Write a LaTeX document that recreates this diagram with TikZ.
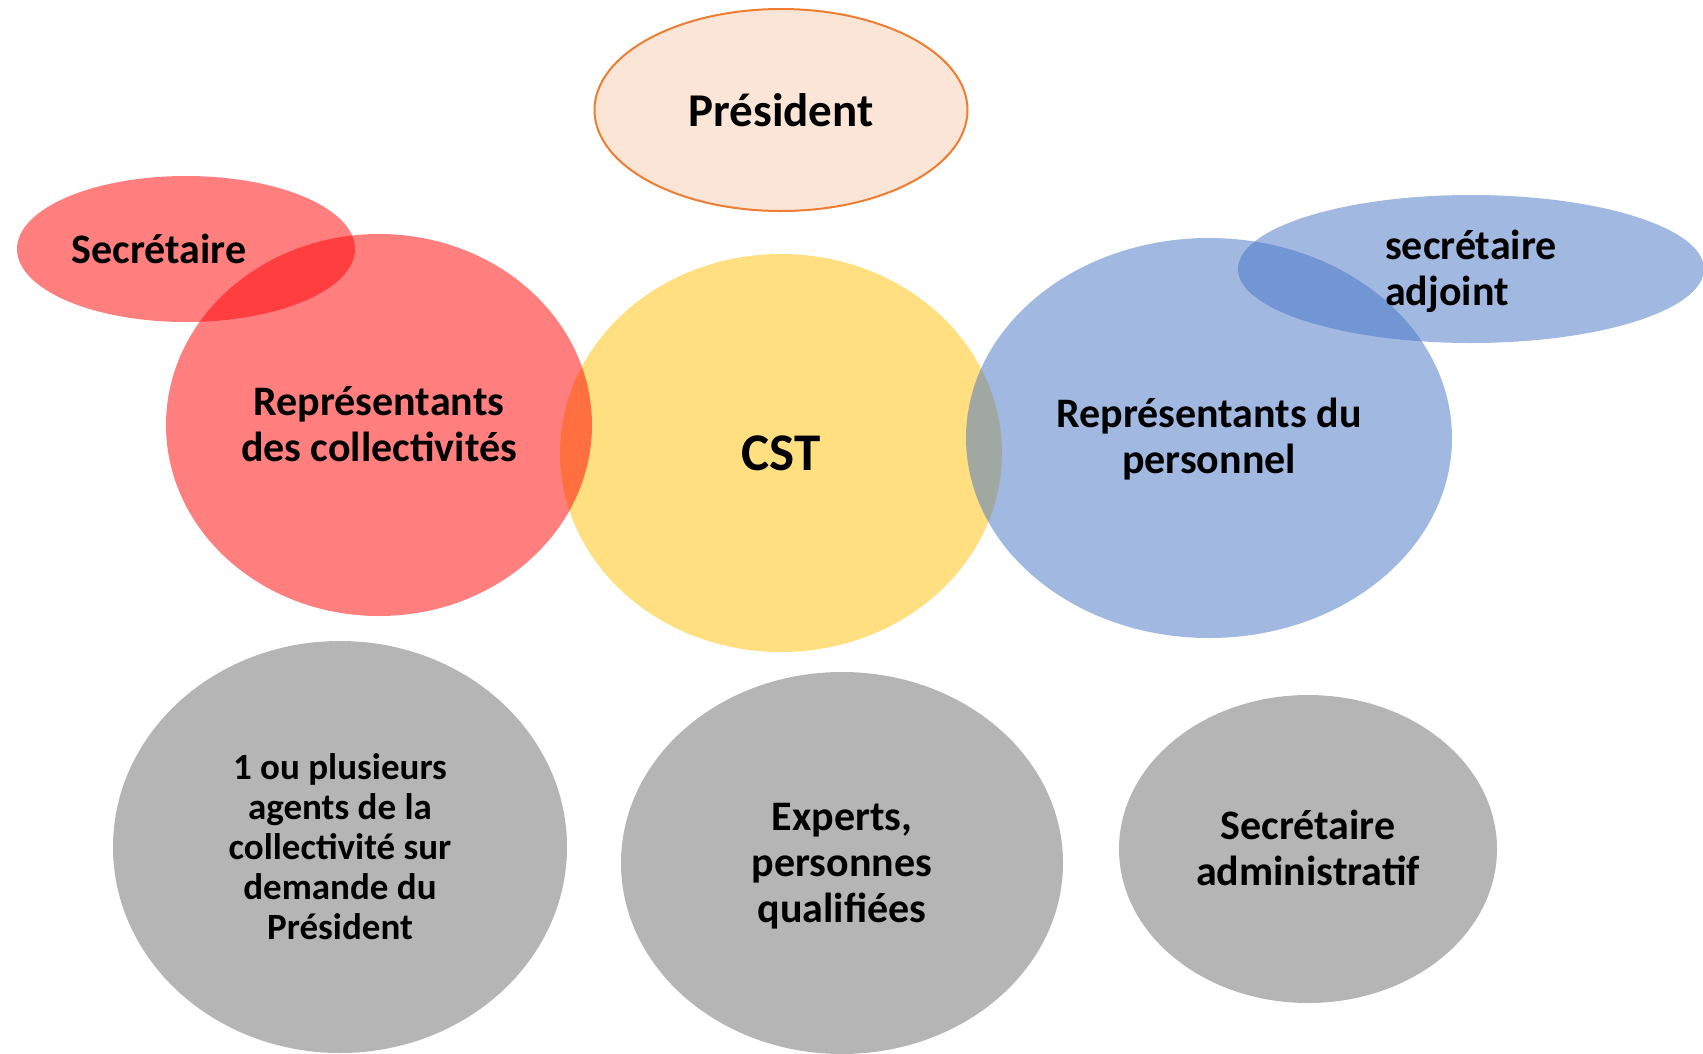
\documentclass[tikz,border=0pt]{standalone}
\usepackage{fontspec}
\setmainfont{Carlito}
\usetikzlibrary{shapes.geometric}
\definecolor{redfill}{HTML}{FF0000}
\definecolor{yellowfill}{HTML}{FFC000}
\definecolor{bluefill}{HTML}{4472C4}
\definecolor{greyfill}{HTML}{B5B5B5}
\definecolor{presfill}{HTML}{FBE5D6}
\definecolor{presline}{HTML}{ED7D31}
\tikzstyle{bubble}=[ellipse,inner sep=0,outer sep=0]
\tikzstyle{redbub}=[bubble,fill=redfill,fill opacity=0.5]
\tikzstyle{yellowbub}=[bubble,fill=yellowfill,fill opacity=0.5]
\tikzstyle{bluebub}=[bubble,fill=bluefill,fill opacity=0.5]
\tikzstyle{greybub}=[bubble,fill=greyfill]
\tikzstyle{presbub}=[bubble,fill=presfill,draw=presline,line width=2pt]
\tikzstyle{txt}=[align=center,text=black,inner sep=0,font=\bfseries\fontsize{42}{46}\selectfont]

\begin{document}
\begin{tikzpicture}[x=1pt,y=-1pt]
  \useasboundingbox (0,0) rectangle (1703,1053);

  % BUBBLES
  \node[presbub,minimum width=373pt,minimum height=202pt] (pres) at (781,110) {};
  \node[yellowbub,minimum width=442pt,minimum height=398pt] (cst) at (781,453) {};
  \node[redbub,minimum width=338pt,minimum height=146pt] (secr) at (186,249) {};
  \node[redbub,minimum width=426pt,minimum height=382pt] (coll) at (379,425) {};
  \node[bluebub,minimum width=486pt,minimum height=400pt] (pers) at (1209,438) {};
  \node[bluebub,minimum width=466pt,minimum height=148pt] (adj) at (1471,269) {};
  \node[greybub,minimum width=454pt,minimum height=412pt] (agents) at (340,847) {};
  \node[greybub,minimum width=442pt,minimum height=382pt] (experts) at (842,863) {};
  \node[greybub,minimum width=378pt,minimum height=308pt] (admin) at (1308,849) {};

  % LABELS
  \node[txt,font=\bfseries\fontsize{47}{51}\selectfont] (presT) at (pres) {Président};
  \node[txt] (secrT) at ([xshift=-27pt]secr.center) {Secrétaire};
  \node[txt] (collT) at ([yshift=1pt]coll.center) {Représentants\\des collectivités};
  \node[txt,font=\bfseries\fontsize{53}{57}\selectfont] (cstT) at (cst) {CST};
  \node[txt] (persT) at ([yshift=-1pt]pers.center) {Représentants du\\personnel};
  \node[txt,anchor=west,align=left] (adjT) at (1385,271) {secrétaire\\adjoint};
  \node[txt,font=\bfseries\fontsize{37}{40}\selectfont] (agentsT) at (agents)
    {1 ou plusieurs\\agents de la\\collectivité sur\\demande du\\Président};
  \node[txt] (expertsT) at ([yshift=-3.5pt]experts.center) {Experts,\\personnes\\qualifiées};
  \node[txt] (adminT) at ([yshift=1pt]admin.center) {Secrétaire\\administratif};

\end{tikzpicture}
\end{document}
